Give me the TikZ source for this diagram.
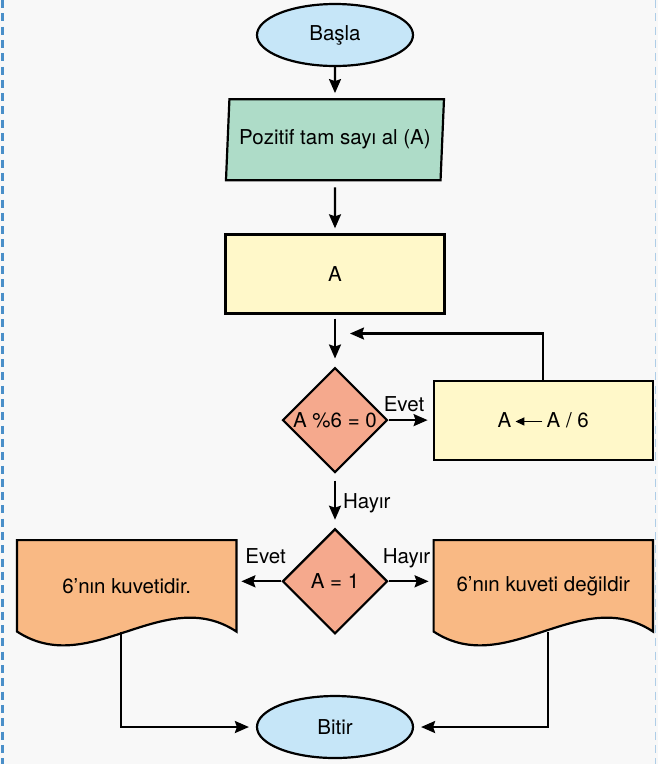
\documentclass[tikz,border=0pt]{standalone}
\usepackage{fontspec}
\setmainfont{TeX Gyre Heros}
\usepackage{xcolor}
\usetikzlibrary{arrows.meta,positioning,shapes.geometric,backgrounds}

\definecolor{termblue}{HTML}{C6E6F8}
\definecolor{inputgreen}{HTML}{AEDCC8}
\definecolor{procyellow}{HTML}{FFF8C9}
\definecolor{decsalmon}{HTML}{F5A98D}
\definecolor{docorange}{HTML}{F9B984}
\definecolor{paper}{HTML}{F8F8F8}
\definecolor{frameblue}{HTML}{4A8FC9}

\newcommand{\larr}{\tikz[baseline=-0.55ex]\draw[line width=1.6pt,-{Triangle[length=9pt,width=8pt]}] (0pt,0pt) -- (-27pt,0pt);}

\begin{document}
\begin{tikzpicture}[
  x=1pt, y=1pt,
  font=\fontsize{20.5}{24}\selectfont,
  base/.style={draw, line width=2.2pt, align=center, inner sep=0pt},
  term/.style={base, ellipse, fill=termblue, minimum width=156pt, minimum height=62pt},
  io/.style={base, trapezium, trapezium left angle=80, trapezium right angle=100,
             trapezium stretches body, fill=inputgreen, minimum width=218pt, minimum height=81pt},
  proc/.style={base, rectangle, fill=procyellow, minimum width=219pt, minimum height=79pt},
  dec/.style={base, diamond, fill=decsalmon, minimum width=105pt, minimum height=105pt},
  doc/.style={rectangle, minimum width=219pt, minimum height=91pt, inner sep=0pt},
  docline/.style={draw, line width=2.2pt, fill=docorange},
  arr/.style={-{Stealth[length=14pt,width=12pt,inset=2pt]}, line width=2.2pt, shorten >=5pt},
  lbl/.style={inner sep=2pt, text depth=0pt}
]
\path[use as bounding box] (0,0) rectangle (658,-764);

\node[term] (start) at (335,-35) {Başla};
\node[io, below=31pt of start] (input) {Pozitif tam sayı al (A)};
\node[proc, below=52pt of input] (assign) {A};
\node[dec, below=52pt of assign] (mod) {A \%6 = 0};
\node[proc, right=44pt of mod] (div) {A\,\larr\,A / 6};
\node[dec, below=54pt of mod] (one) {A = 1};
\node[doc, left=45pt of one, yshift=-4.5pt] (yes) {6’nın kuvetidir.};
\node[doc, right=45pt of one, yshift=-4.5pt] (no) {6’nın kuveti değildir};
\node[term, below=60pt of one] (stop) {Bitir};
\coordinate[below right=19pt and 15pt of assign.south] (loopin);

\begin{pgfonlayer}{background}
\fill[paper] (0,0) rectangle (658,-764);
\draw[docline] (yes.south west) -- (yes.north west) -- (yes.north east) -- (yes.south east)
  .. controls +(-73pt,48pt) and +(73pt,-48pt) .. (yes.south west) -- cycle;
\draw[docline] (no.south west) -- (no.north west) -- (no.north east) -- (no.south east)
  .. controls +(-73pt,48pt) and +(73pt,-48pt) .. (no.south west) -- cycle;
\end{pgfonlayer}

\draw[frameblue, line width=3pt, dash pattern=on 8pt off 5.3pt] (2.5,0) -- (2.5,-764);
\draw[frameblue!45, line width=1.5pt, dash pattern=on 8pt off 5.3pt] (655.5,0) -- (655.5,-764);

\draw[arr] (start) -- (input);
\draw[arr, shorten <=6pt] (input) -- (assign);
\draw[arr, shorten <=4pt, shorten >=8pt] (assign) -- (mod);
\draw[arr] (mod) -- node[lbl, above=6pt, pos=0.35] {Evet} (div);
\draw[arr, shorten >=0pt] (div.north) |- (loopin);
\draw[arr, shorten <=7pt, shorten >=8pt] (mod) -- node[lbl, right=5pt] {Hayır} (one);
\draw[arr] (one.west) -- node[lbl, above=15pt, pos=0.35] {Evet} (one.west -| yes.east);
\draw[arr] (one.east) -- node[lbl, above=15pt, pos=0.4] {Hayır} (one.east -| no.west);
\draw[arr, shorten >=7pt] ([xshift=-5.5pt]yes.south) |- (stop);
\draw[arr, shorten >=7pt] ([xshift=5pt]no.south) |- (stop);
\end{tikzpicture}
\end{document}
